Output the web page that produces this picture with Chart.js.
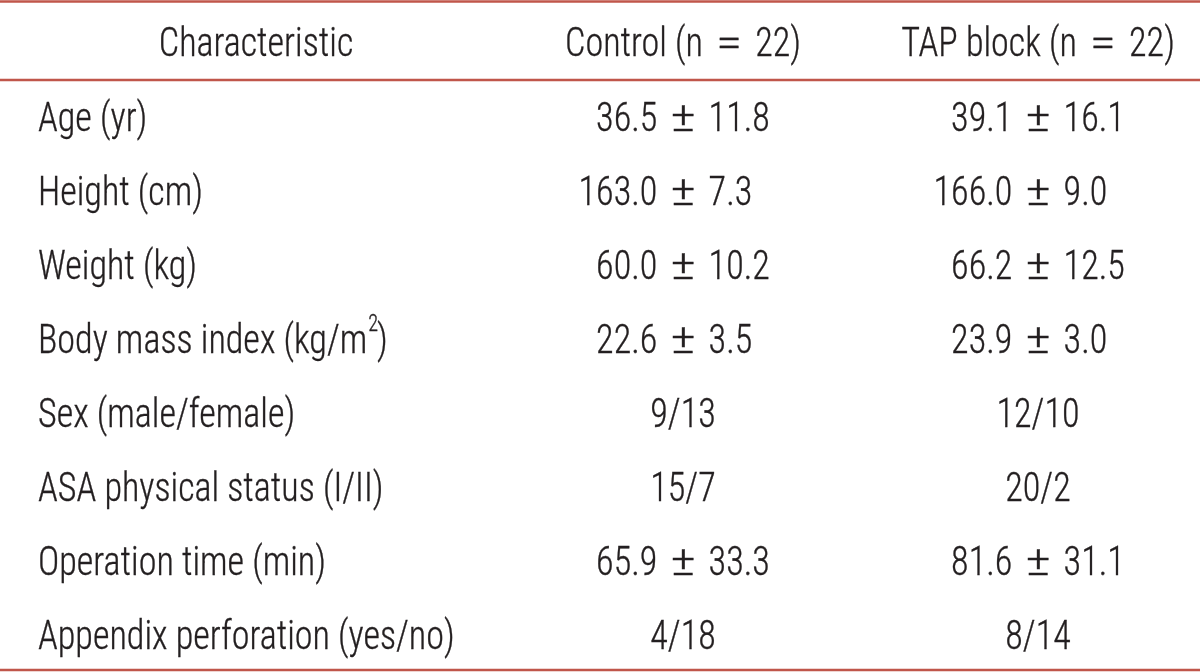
<!DOCTYPE html>
<html><head><meta charset="utf-8">
<script src="https://cdn.jsdelivr.net/npm/chart.js@4.4.1/dist/chart.umd.min.js"></script>
<style>html,body{margin:0;padding:0;background:#fff}#wrap{width:1200px;height:672px;position:relative}</style>
</head><body><div id="wrap"><canvas id="c"></canvas></div>
<script>
// ---- data ----
const headerLabel = 'Characteristic';
const groupLabels = ['Control (n = 22)', 'TAP block (n = 22)'];
const characteristics = ['Age (yr)', 'Height (cm)', 'Weight (kg)', 'Body mass index (kg/m²)',
  'Sex (male/female)', 'ASA physical status (I/II)', 'Operation time (min)', 'Appendix perforation (yes/no)'];
const controlValues = ['36.5 ± 11.8', '163.0 ± 7.3', '60.0 ± 10.2', '22.6 ± 3.5', '9/13', '15/7', '65.9 ± 33.3', '4/18'];
const tapValues = ['39.1 ± 16.1', '166.0 ± 9.0', '66.2 ± 12.5', '23.9 ± 3.0', '12/10', '20/2', '81.6 ± 31.1', '8/14'];

// ---- style ----
const FONT_FAMILY = '"Roboto Condensed", "Liberation Sans Narrow", Roboto, sans-serif';
const FONT_WEIGHT = '300';
const FONT_SIZE = 41;
const SCALE_X = 0.88;
const OP_STRETCH = 1.5;     // ± and = drawn wider
const OP_GAP = 13;          // gap around ± and = (px)
const TEXT_COLOR = '#231f20';
const RULE_COLOR = '#c0564a';

function fontStr(size){ return FONT_WEIGHT + ' ' + size + 'px ' + FONT_FAMILY; }

// tokenise a string into runs: normal text, superscript "²", and spaced operators
function tokens(str){
  const out = [];
  for (const part of str.split(/( ± | = |²)/)) {
    if (!part) continue;
    if (part === '²') out.push({t: '2', sup: true});
    else if (part === ' ± ' || part === ' = ') out.push({t: part.trim(), op: true});
    else out.push({t: part});
  }
  return out;
}
function tokWidth(ctx, tk){
  if (tk.sup) {
    ctx.font = fontStr(Math.round(FONT_SIZE*0.55));
    const w = ctx.measureText(tk.t).width;
    ctx.font = fontStr(FONT_SIZE);
    return w;
  }
  const w = ctx.measureText(tk.t).width;
  return tk.op ? w*OP_STRETCH + 2*OP_GAP/SCALE_X : w;
}
function drawRich(ctx, str, x, yMid, align, capH){
  ctx.font = fontStr(FONT_SIZE);
  const tks = tokens(str);
  const widths = tks.map(tk => tokWidth(ctx, tk));
  const total = widths.reduce((a, b) => a + b, 0);
  let start;
  const pmIdx = tks.findIndex(tk => tk.op && tk.t === '±');
  if (align === 'left') start = x;
  else if (align === 'pm' && pmIdx >= 0) {
    let pre = 0; for (let k = 0; k < pmIdx; k++) pre += widths[k];
    start = x - (pre + widths[pmIdx]/2)*SCALE_X;
  } else start = x - total*SCALE_X/2;
  ctx.save();
  ctx.translate(start, yMid + capH/2);
  ctx.scale(SCALE_X, 1);
  ctx.textAlign = 'left';
  ctx.textBaseline = 'alphabetic';
  ctx.lineWidth = 0.35;
  ctx.strokeStyle = TEXT_COLOR;
  let cx = 0;
  tks.forEach((tk, k) => {
    if (tk.sup) {
      ctx.font = fontStr(Math.round(FONT_SIZE*0.55));
      ctx.fillText(tk.t, cx + 1, -capH*0.74);
      ctx.strokeText(tk.t, cx + 1, -capH*0.74);
      ctx.font = fontStr(FONT_SIZE);
    } else if (tk.op) {
      ctx.save();
      ctx.translate(cx + OP_GAP/SCALE_X, 0);
      ctx.scale(OP_STRETCH, 1);
      ctx.lineWidth = 0.3;
      ctx.fillText(tk.t, 0, 0);
      ctx.strokeText(tk.t, 0, 0);
      ctx.restore();
    } else {
      ctx.fillText(tk.t, cx, 0);
      ctx.strokeText(tk.t, cx, 0);
    }
    cx += widths[k];
  });
  ctx.restore();
}

const tablePlugin = {
  id: 'tableText',
  afterDraw(chart){
    const {ctx, chartArea, scales} = chart;
    const xs = scales.x, ys = scales.y;
    ctx.save();
    ctx.font = fontStr(FONT_SIZE);
    ctx.fillStyle = TEXT_COLOR;
    const capH = ctx.measureText('H').actualBoundingBoxAscent;
    // rules
    ctx.strokeStyle = RULE_COLOR; ctx.lineWidth = 2.4;
    const headerRuleY = chartArea.top + 1;
    [1.5, headerRuleY, chartArea.bottom - 2].forEach(yy => {
      ctx.beginPath(); ctx.moveTo(0, yy); ctx.lineTo(chart.width, yy); ctx.stroke();
    });
    // header row
    const headerMid = headerRuleY / 2 + 1;
    drawRich(ctx, headerLabel, 256, headerMid, 'center', capH);
    groupLabels.forEach((g, j) => drawRich(ctx, g, xs.getPixelForValue(j), headerMid, 'center', capH));
    // body rows
    characteristics.forEach((label, i) => {
      const yMid = ys.getPixelForValue(i);
      drawRich(ctx, label, 38, yMid, 'left', capH);
      [controlValues, tapValues].forEach((vals, j) => {
        drawRich(ctx, vals[i], xs.getPixelForValue(j), yMid, 'pm', capH);
      });
    });
    ctx.restore();
  }
};

new Chart(document.getElementById('c'), {
  type: 'line',
  data: { labels: groupLabels, datasets: [] },
  options: {
    responsive: true, maintainAspectRatio: false, animation: false,
    layout: { padding: { left: 683, right: 162, top: 79, bottom: 0 } },
    plugins: { legend: { display: false }, tooltip: { enabled: false } },
    scales: {
      x: { type: 'category', labels: groupLabels, offset: false, display: false },
      y: { type: 'category', labels: characteristics, offset: true, display: false }
    }
  },
  plugins: [tablePlugin]
});
</script></body></html>
